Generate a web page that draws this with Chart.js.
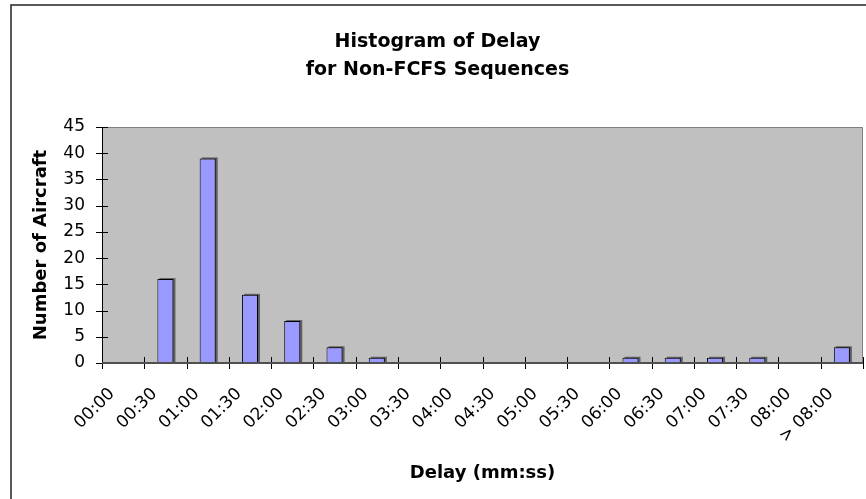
<!DOCTYPE html>
<html>
<head>
<meta charset="utf-8">
<script src="https://cdn.jsdelivr.net/npm/chart.js@4.4.0/dist/chart.umd.min.js"></script>
<style>
    html, body { margin: 0; padding: 0; background: #fff; }
    #wrap { width: 866px; height: 499px; }
</style>
</head>
<body>
<div id="wrap"><canvas id="myChart"></canvas></div>
<script>
var delayLabels = ['00:00', '00:30', '01:00', '01:30', '02:00', '02:30', '03:00', '03:30', '04:00',
    '04:30', '05:00', '05:30', '06:00', '06:30', '07:00', '07:30', '08:00', '> 08:00'];
var aircraftCounts = [0, 16, 39, 13, 8, 3, 1, 0, 0, 0, 0, 0, 1, 1, 1, 1, 0, 3];
var yMax = 45;
var yStep = 5;

// grey plot area, borders, tick marks crossing the axes
var excelLook = {
    id: 'excelLook',
    beforeDatasetsDraw: function(chart) {
        var ctx = chart.ctx;
        var meta = chart.getDatasetMeta(0);
        ctx.save();
        ctx.fillStyle = '#606060';
        meta.data.forEach(function(bar, i) {
            if (!aircraftCounts[i]) return;
            var p = bar.getProps(['x', 'y', 'base', 'width'], true);
            ctx.fillRect(p.x - p.width / 2 + 2, p.y - 1, p.width, p.base - p.y);
        });
        ctx.restore();
    },
    beforeDraw: function(chart) {
        var ctx = chart.ctx;
        var a = chart.chartArea;
        ctx.save();
        ctx.fillStyle = '#C0C0C0';
        ctx.fillRect(a.left, a.top, a.right - a.left, a.bottom - a.top);
        ctx.strokeStyle = '#808080';
        ctx.lineWidth = 1;
        ctx.beginPath();
        ctx.moveTo(a.left, a.top + 0.5);
        ctx.lineTo(a.right - 0.5, a.top + 0.5);
        ctx.lineTo(a.right - 0.5, a.bottom);
        ctx.stroke();
        ctx.restore();
    },
    afterDraw: function(chart) {
        var ctx = chart.ctx;
        var a = chart.chartArea;
        var x = chart.scales.x;
        var y = chart.scales.y;
        ctx.save();
        ctx.strokeStyle = '#000';
        ctx.lineWidth = 1;
        ctx.beginPath();
        // y axis line + ticks
        ctx.moveTo(a.left + 0.5, a.top);
        ctx.lineTo(a.left + 0.5, a.bottom);
        y.ticks.forEach(function(t) {
            var py = Math.round(y.getPixelForValue(t.value)) + 0.5;
            ctx.moveTo(a.left - 6, py);
            ctx.lineTo(a.left + 6, py);
        });
        // x ticks between categories
        for (var i = 0; i <= delayLabels.length; i++) {
            var px = Math.round(x.getPixelForValue(i - 0.5)) + 0.5;
            ctx.moveTo(px, a.bottom - 6);
            ctx.lineTo(px, a.bottom + 6);
        }
        ctx.stroke();
        // x axis line
        ctx.strokeStyle = '#505050';
        ctx.lineWidth = 2;
        ctx.beginPath();
        ctx.moveTo(a.left, a.bottom);
        ctx.lineTo(a.right, a.bottom);
        ctx.stroke();
        // outer chart frame
        ctx.strokeStyle = '#222';
        ctx.lineWidth = 1.5;
        ctx.beginPath();
        ctx.moveTo(11, 499);
        ctx.lineTo(11, 5);
        ctx.lineTo(866, 5);
        ctx.stroke();
        ctx.restore();
    }
};

const ctx = document.getElementById('myChart');
var myChart = new Chart(ctx, {
    type: 'bar',
    data: {
        labels: delayLabels,
        datasets: [{
            label: 'Number of Aircraft',
            data: aircraftCounts,
            backgroundColor: '#9999FF',
            borderColor: '#000',
            borderWidth: 1,
            borderSkipped: false,
            categoryPercentage: 1,
            barPercentage: 0.38
        }]
    },
    options: {
        responsive: true,
        maintainAspectRatio: false,
        animation: false,
        layout: {
            padding: { left: 12, right: 3, top: 6, bottom: 10 }
        },
        plugins: {
            legend: { display: false },
            tooltip: { enabled: false },
            title: {
                display: true,
                text: ['Histogram of Delay', 'for Non-FCFS Sequences'],
                color: '#000',
                font: { family: 'DejaVu Sans', size: 19, weight: 'bold', lineHeight: '28px' },
                padding: { top: 22, bottom: 43 }
            }
        },
        scales: {
            x: {
                grid: { display: false },
                border: { display: false },
                ticks: {
                    autoSkip: false,
                    minRotation: 45,
                    maxRotation: 45,
                    labelOffset: -11,
                    padding: 13,
                    color: '#000',
                    font: { family: 'DejaVu Sans', size: 17 }
                },
                title: {
                    display: true,
                    text: 'Delay (mm:ss)',
                    color: '#000',
                    font: { family: 'DejaVu Sans', size: 18, weight: 'bold' },
                    padding: { top: 0, bottom: 5 }
                },
                afterFit: function(scale) {
                    scale.height = 126;
                    scale.paddingLeft = 0;
                    scale.paddingRight = 0;
                }
            },
            y: {
                min: 0,
                max: yMax,
                grid: { display: false },
                border: { display: false },
                ticks: {
                    stepSize: yStep,
                    padding: 9,
                    color: '#000',
                    font: { family: 'DejaVu Sans', size: 17 }
                },
                title: {
                    display: true,
                    text: 'Number of Aircraft',
                    color: '#000',
                    font: { family: 'DejaVu Sans', size: 18, weight: 'bold' },
                    padding: { top: 19, bottom: 0 }
                },
                afterFit: function(scale) {
                    scale.width = 90;
                }
            }
        }
    },
    plugins: [excelLook]
});
</script>
</body>
</html>
